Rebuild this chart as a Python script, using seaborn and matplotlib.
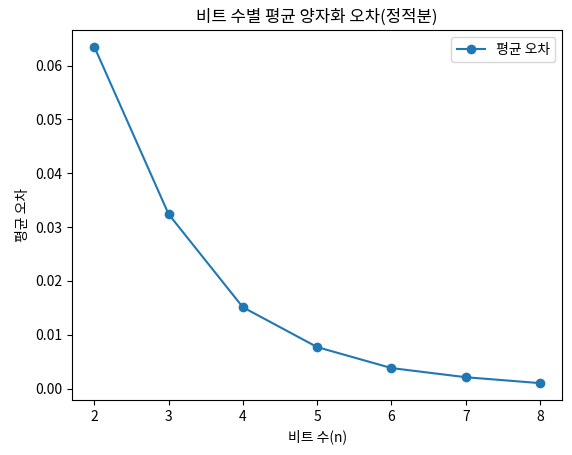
import matplotlib
matplotlib.use("Agg")
import matplotlib.pyplot as plt
import seaborn as sns
import pandas as pd

bits = [2, 3, 4, 5, 6, 7, 8]
errors = [0.0635, 0.0324, 0.0151, 0.0077, 0.0038, 0.0021, 0.0010]

plt.rcParams['font.family'] = ['Noto Sans CJK KR', 'DejaVu Sans']
plt.rcParams['axes.unicode_minus'] = False

df = pd.DataFrame({"bits": bits, "err": errors})
fig, ax = plt.subplots(figsize=(5.72, 4.55), dpi=100)
sns.lineplot(data=df, x="bits", y="err", marker="o", markersize=7, markeredgewidth=0,
             color="#1f77b4", label="평균 오차", ax=ax)
ax.set_title("비트 수별 평균 양자화 오차(정적분)")
ax.set_xlabel("비트 수(n)")
ax.set_ylabel("평균 오차")
ax.legend(loc="upper right")
fig.subplots_adjust(left=0.126, right=0.983, top=0.934, bottom=0.121)
fig.savefig("out.png", dpi=100)
